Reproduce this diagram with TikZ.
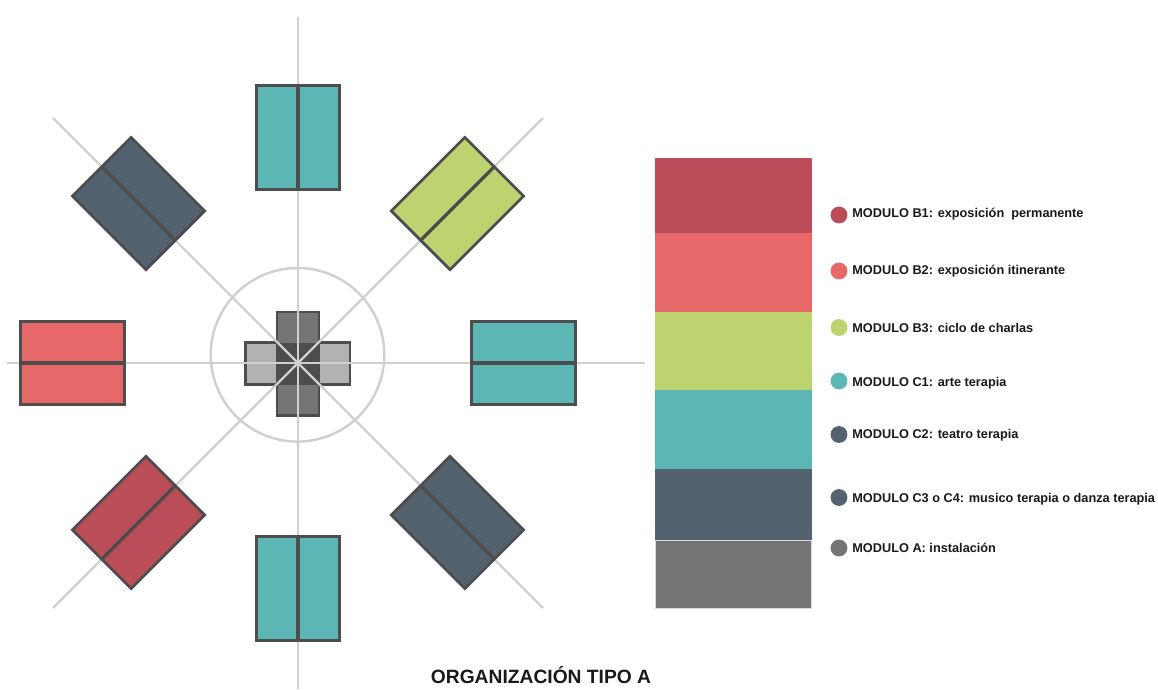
\documentclass[tikz,border=0pt]{standalone}
\usepackage{fontspec}
\setmainfont{Liberation Sans}
\definecolor{moduloBa}{HTML}{BA4D58}
\definecolor{moduloBb}{HTML}{E76869}
\definecolor{moduloBc}{HTML}{BDD36F}
\definecolor{moduloCa}{HTML}{5CB7B4}
\definecolor{moduloCb}{HTML}{54626F}
\definecolor{moduloA}{HTML}{757575}
\definecolor{axisgray}{HTML}{D0D0D0}
\definecolor{edgegray}{HTML}{4D4D4D}

\begin{document}
\begin{tikzpicture}[
    x=0.02cm, y=-0.02cm,
    axis line/.style={axisgray, line width=1.3pt},
    module edge/.style={edgegray, line width=1.55pt, line join=miter},
    legend dot/.style={circle, inner sep=0pt, minimum size=9.6pt},
    legend text/.style={anchor=west, inner sep=0pt, text=black!90, font=\bfseries\fontsize{7.25}{8}\selectfont},
    every node/.style={color=black}
    ]
    \useasboundingbox (0,0) rectangle (1158,689);

    % define center
    \coordinate (O) at (298,363);
    % center cross
    \draw[module edge, fill=black!30] (245.5,342.5) rectangle (350,384.5);
    \draw[module edge, fill=moduloA] (277,312) rectangle (319,415.5);
    \fill[edgegray] (277,342.5) rectangle (319,384.5);
    % axis
    \draw[axis line, line width=1.5pt] (298,17) -- (298,689);
    \draw[axis line] (7,363) -- (645,363);
    \draw[axis line] (53,118) -- (543,608);
    \draw[axis line] (543,118) -- (53,608);
    \draw[axis line, line width=1.4pt] (297.5,354.8) circle (86.8);
    % modules
    \foreach \angle/\modcolor in {0/moduloCa, 45/moduloBc, 90/moduloCa, 135/moduloCb,
                                  180/moduloBb, 225/moduloBa, 270/moduloCa, 315/moduloCb} {
        \begin{scope}[shift={(O)}, rotate=\angle]
            \draw[module edge, fill=\modcolor] (173.5,-41.5) rectangle (277.5,41.5);
            \draw[module edge, line width=2pt] (173.5,0) -- (277.5,0);
        \end{scope}
    }
    % legend
    \fill[moduloBa] (655,158) rectangle (812,233);
    \fill[moduloBb] (655,233) rectangle (812,312);
    \fill[moduloBc] (655,312) rectangle (812,390);
    \fill[moduloCa] (655,390) rectangle (812,469);
    \fill[moduloCb] (655,469) rectangle (812,540);
    \draw[fill=moduloA, draw=black!15, line width=0.4pt] (655,540) rectangle (811,608);
    \foreach \name/\y/\dy/\modcolor/\labeltext in {
        ba/215/214.5/moduloBa/{MODULO B1: exposición\ \ permanente},
        bb/271/271.5/moduloBb/{MODULO B2: exposición itinerante},
        bc/327.5/328/moduloBc/{MODULO B3: ciclo de charlas},
        ca/381/383.5/moduloCa/{MODULO C1: arte terapia},
        cb/434.5/435.5/moduloCb/{MODULO C2: teatro terapia},
        cc/497.5/499/moduloCb/{MODULO C3 o C4: musico terapia o danza terapia},
        aa/548/547.5/moduloA/{MODULO A: instalación}} {
        \node[legend dot, fill=\modcolor] (dot-\name) at (839,\y) {};
        \node[legend text] (label-\name) at (852,\dy) {\labeltext};
    }
    % title
    \node[font=\bfseries\fontsize{10.95}{12}\selectfont, text=black!90, inner sep=0pt] (title) at (541,675.5) {ORGANIZACIÓN TIPO A};
\end{tikzpicture}
\end{document}
